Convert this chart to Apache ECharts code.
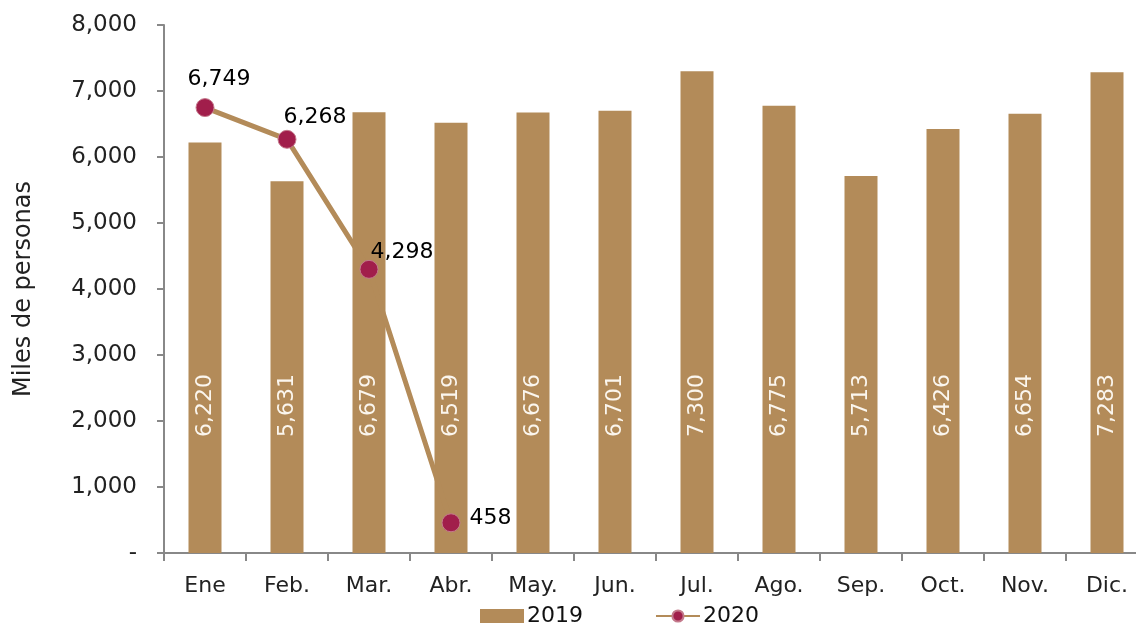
<!DOCTYPE html>
<html><head><meta charset="utf-8">
<script src="https://cdn.jsdelivr.net/npm/echarts@6/dist/echarts.min.js"></script>
<style>html,body{margin:0;padding:0;background:#fff;overflow:hidden;width:1136px;height:628px}#c{width:1148px;height:628px}</style>
</head><body><div id="c"></div>
<script>
const categories = ['Ene','Feb.','Mar.','Abr.','May.','Jun.','Jul.','Ago.','Sep.','Oct.','Nov.','Dic.'];
const values2019 = [6220,5631,6679,6519,6676,6701,7300,6775,5713,6426,6654,7283];
const values2020 = [6749,6268,4298,458,null,null,null,null,null,null,null,null];
const yTicks = [0,1000,2000,3000,4000,5000,6000,7000,8000];

const FONT = 'DejaVu Sans';
const TAN = '#B38B59';
const MAROON = '#A11E4B';
const fmt = v => v === 0 ? '-' : v.toLocaleString('en-US');

const lineLabelPos = [
  {position:'top', offset:[14,-3]},
  {position:'right', offset:[-18,-22]},
  {position:'right', offset:[-13,-17]},
  {position:'right', offset:[4,-4]}
];
const lineData = values2020.map((v,i)=> v==null ? null : ({value:v, label:lineLabelPos[i]}));

const chart = echarts.init(document.getElementById('c'));
chart.setOption({
  animation:false,
  textStyle:{fontFamily:FONT},
  grid:{left:164, right:0, top:25, bottom:75, containLabel:false},
  legend:{
    top:600, left:475, itemGap:72, itemWidth:44, itemHeight:14,
    textStyle:{fontFamily:FONT, fontSize:22, color:'#111', padding:[0,0,0,-2]},
    data:[{name:'2019', icon:'rect'},{name:'2020'}]
  },
  xAxis:{
    type:'category', data:categories,
    axisLine:{lineStyle:{color:'#888', width:2}},
    axisTick:{show:true, length:8, lineStyle:{color:'#888', width:2}},
    axisLabel:{fontFamily:FONT, fontSize:22, color:'#222', margin:22}
  },
  yAxis:{
    type:'value', min:0, max:8000, interval:1000,
    name:'Miles de personas', nameLocation:'middle', nameGap:128, nameRotate:90,
    nameTextStyle:{fontFamily:FONT, fontSize:24, color:'#222'},
    axisLine:{show:true, lineStyle:{color:'#888', width:2}},
    axisTick:{show:true, length:7, lineStyle:{color:'#888', width:2}},
    splitLine:{show:false},
    axisLabel:{fontFamily:FONT, fontSize:23, color:'#222', margin:27,
      formatter: v => yTicks.includes(v) ? fmt(v) : ''}
  },
  series:[
    {
      name:'2019', type:'bar', data:values2019, barWidth:33,
      itemStyle:{color:TAN},
      label:{show:true, position:'insideBottom', rotate:90, align:'left', verticalAlign:'middle',
        distance:116, color:'#fbf6ee', fontFamily:FONT, fontSize:22,
        formatter:p=>fmt(p.value)}
    },
    {
      name:'2020', type:'line', data:lineData, symbol:'circle', symbolSize:18,
      connectNulls:false,
      lineStyle:{color:TAN, width:5},
      itemStyle:{color:MAROON, borderColor:'#C47A8C', borderWidth:1},
      label:{show:true, color:'#000', fontFamily:FONT, fontSize:22,
        formatter:p=>fmt(p.value)},
      z:5
    }
  ]
});
</script></body></html>
